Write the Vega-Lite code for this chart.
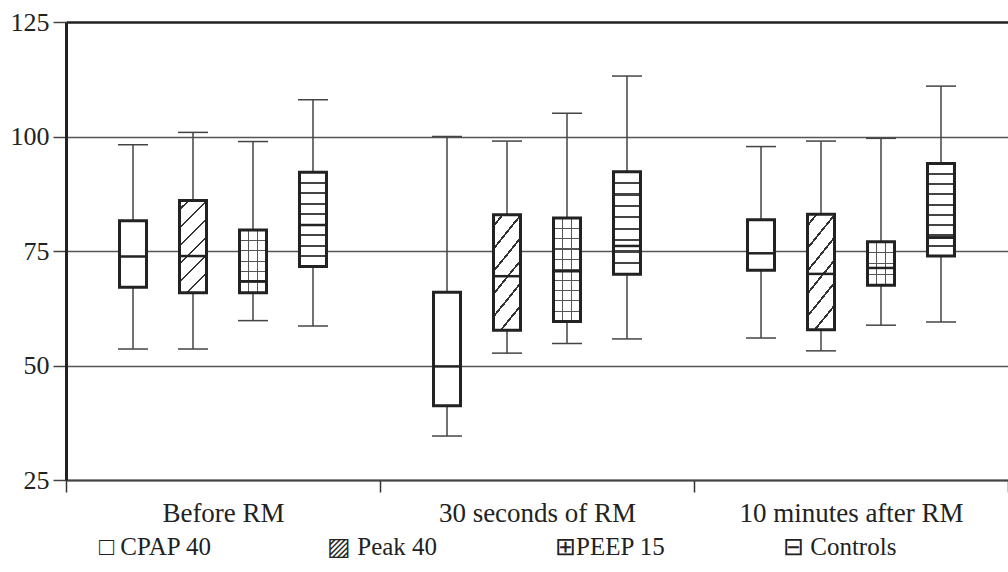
{
  "$schema": "https://vega.github.io/schema/vega-lite/v6.json",
  "width": 942,
  "height": 458,
  "autosize": {"type": "none"},
  "padding": {"left": 66, "top": 22, "right": 0, "bottom": 92},
  "background": "white",
  "config": {"view": {"stroke": null}, "font": "Liberation Serif", "legend": {"labelFont": "Liberation Serif"}},
  "data": {
    "values": [
      {"time": "Before RM", "group": "CPAP 40", "min": 53.6, "q1": 67.1, "median": 73.8, "q3": 81.6, "max": 98.2},
      {"time": "Before RM", "group": "Peak 40", "min": 53.6, "q1": 65.9, "median": 73.9, "q3": 86.0, "max": 100.9},
      {"time": "Before RM", "group": "PEEP 15", "min": 59.8, "q1": 65.9, "median": 68.4, "q3": 79.6, "max": 98.9},
      {"time": "Before RM", "group": "Controls", "min": 58.6, "q1": 71.6, "median": 80.7, "q3": 92.2, "max": 108.0},
      {"time": "30 seconds of RM", "group": "CPAP 40", "min": 34.6, "q1": 41.2, "median": 49.8, "q3": 66.0, "max": 100.0},
      {"time": "30 seconds of RM", "group": "Peak 40", "min": 52.7, "q1": 57.7, "median": 69.5, "q3": 82.9, "max": 99.0},
      {"time": "30 seconds of RM", "group": "PEEP 15", "min": 54.8, "q1": 59.6, "median": 70.6, "q3": 82.2, "max": 105.1},
      {"time": "30 seconds of RM", "group": "Controls", "min": 55.8, "q1": 69.9, "median": 76.1, "q3": 92.3, "max": 113.2},
      {"time": "10 minutes after RM", "group": "CPAP 40", "min": 56.0, "q1": 70.8, "median": 74.5, "q3": 81.8, "max": 97.8},
      {"time": "10 minutes after RM", "group": "Peak 40", "min": 53.2, "q1": 57.8, "median": 70.0, "q3": 83.0, "max": 99.0},
      {"time": "10 minutes after RM", "group": "PEEP 15", "min": 58.8, "q1": 67.5, "median": 71.3, "q3": 77.0, "max": 99.6},
      {"time": "10 minutes after RM", "group": "Controls", "min": 59.5, "q1": 73.9, "median": 77.9, "q3": 94.1, "max": 111.0}
    ]
  },
  "encoding": {
    "x": {
      "field": "time", "type": "nominal",
      "sort": ["Before RM", "30 seconds of RM", "10 minutes after RM"],
      "scale": {"paddingInner": 0, "paddingOuter": 0},
      "axis": {
        "title": null, "labelAngle": 0, "labelFont": "Liberation Serif", "labelFontSize": 27,
        "labelColor": "#222", "labelLimit": 500, "tickBand": "extent", "tickSize": 12, "tickColor": "#333", "tickWidth": 1.5,
        "domainColor": "#444", "domainWidth": 2, "labelPadding": 8
      }
    },
    "xOffset": {
      "field": "group", "type": "nominal",
      "sort": ["CPAP 40", "Peak 40", "PEEP 15", "Controls"],
      "scale": {"paddingInner": 0.55, "paddingOuter": 0.892}
    }
  },
  "layer": [
    {
      "mark": {"type": "rule", "strokeWidth": 1.5},
      "encoding": {
        "y": {
          "field": "min", "type": "quantitative",
          "scale": {"domain": [25, 125], "nice": false, "zero": false},
          "axis": {
            "title": null, "values": [25, 50, 75, 100, 125], "grid": true,
            "gridColor": {"condition": {"test": "datum.value === 125", "value": "#222"}, "value": "#555"},
            "gridWidth": {"condition": {"test": "datum.value === 125", "value": 2.5}, "value": 1.5},
            "domainColor": "#222", "domainWidth": 3, "tickColor": "#444", "tickWidth": 1.5, "tickSize": 13,
            "labelFont": "Liberation Serif", "labelFontSize": 26, "labelColor": "#222", "labelPadding": 4
          }
        },
        "y2": {"field": "max"},
        "color": {
          "field": "group", "type": "nominal",
          "sort": ["CPAP 40", "Peak 40", "PEEP 15", "Controls"],
          "scale": {"range": ["#444", "#444", "#444", "#444"]},
          "legend": {
            "title": null, "orient": "none", "legendX": 8, "legendY": 512,
            "direction": "horizontal", "columns": 4, "gridAlign": "all", "columnPadding": 89,
            "symbolOpacity": 0, "symbolSize": 1, "labelOffset": 0,
            "labelFont": "Liberation Serif", "labelFontSize": 25, "labelColor": "#222", "labelLimit": 300,
            "labelExpr": "datum.label === 'CPAP 40' ? '□ CPAP 40' : datum.label === 'Peak 40' ? '▨ Peak 40' : datum.label === 'PEEP 15' ? '⊞PEEP 15' : '⊟ Controls'"
          }
        }
      }
    },
    {
      "mark": {"type": "tick", "size": 30, "thickness": 1.5, "color": "#444", "opacity": 1},
      "encoding": {"y": {"field": "min", "type": "quantitative"}}
    },
    {
      "mark": {"type": "tick", "size": 30, "thickness": 1.5, "color": "#444", "opacity": 1},
      "encoding": {"y": {"field": "max", "type": "quantitative"}}
    },
    {
      "transform": [{"filter": "datum.group === 'CPAP 40'"}],
      "mark": {"type": "bar", "fill": "#fff"},
      "encoding": {"y": {"field": "q1", "type": "quantitative"}, "y2": {"field": "q3"}}
    },
    {
      "transform": [{"filter": "datum.group === 'Peak 40'"}],
      "mark": {
        "type": "bar",
        "fill": {
          "gradient": "linear", "x1": 0, "y1": 0, "x2": 0.345, "y2": 1.19,
          "stops": [
            {"offset": 0, "color": "#fff"},
            {"offset": 0.066, "color": "#fff"}, {"offset": 0.066, "color": "#333"}, {"offset": 0.086, "color": "#333"}, {"offset": 0.086, "color": "#fff"},
            {"offset": 0.218, "color": "#fff"}, {"offset": 0.218, "color": "#333"}, {"offset": 0.238, "color": "#333"}, {"offset": 0.238, "color": "#fff"},
            {"offset": 0.370, "color": "#fff"}, {"offset": 0.370, "color": "#333"}, {"offset": 0.390, "color": "#333"}, {"offset": 0.390, "color": "#fff"},
            {"offset": 0.522, "color": "#fff"}, {"offset": 0.522, "color": "#333"}, {"offset": 0.542, "color": "#333"}, {"offset": 0.542, "color": "#fff"},
            {"offset": 0.674, "color": "#fff"}, {"offset": 0.674, "color": "#333"}, {"offset": 0.694, "color": "#333"}, {"offset": 0.694, "color": "#fff"},
            {"offset": 0.826, "color": "#fff"}, {"offset": 0.826, "color": "#333"}, {"offset": 0.846, "color": "#333"}, {"offset": 0.846, "color": "#fff"},
            {"offset": 0.978, "color": "#fff"}, {"offset": 0.978, "color": "#333"}, {"offset": 0.998, "color": "#333"}, {"offset": 0.998, "color": "#fff"},
            {"offset": 1, "color": "#fff"}
          ]
        }
      },
      "encoding": {"y": {"field": "q1", "type": "quantitative"}, "y2": {"field": "q3"}}
    },
    {
      "transform": [{"filter": "datum.group === 'PEEP 15' && datum.time === 'Before RM'"}],
      "mark": {
        "type": "bar",
        "fill": {
          "gradient": "linear", "x1": 0, "y1": 0, "x2": 0, "y2": 1,
          "stops": [
            {"offset": 0, "color": "#fff"},
            {"offset": 0.157, "color": "#fff"}, {"offset": 0.157, "color": "#555"}, {"offset": 0.177, "color": "#555"}, {"offset": 0.177, "color": "#fff"},
            {"offset": 0.323, "color": "#fff"}, {"offset": 0.323, "color": "#555"}, {"offset": 0.343, "color": "#555"}, {"offset": 0.343, "color": "#fff"},
            {"offset": 0.490, "color": "#fff"}, {"offset": 0.490, "color": "#555"}, {"offset": 0.510, "color": "#555"}, {"offset": 0.510, "color": "#fff"},
            {"offset": 0.657, "color": "#fff"}, {"offset": 0.657, "color": "#555"}, {"offset": 0.677, "color": "#555"}, {"offset": 0.677, "color": "#fff"},
            {"offset": 0.823, "color": "#fff"}, {"offset": 0.823, "color": "#555"}, {"offset": 0.843, "color": "#555"}, {"offset": 0.843, "color": "#fff"},
            {"offset": 1, "color": "#fff"}
          ]
        }
      },
      "encoding": {"y": {"field": "q1", "type": "quantitative"}, "y2": {"field": "q3"}}
    },
    {
      "transform": [{"filter": "datum.group === 'PEEP 15' && datum.time === '30 seconds of RM'"}],
      "mark": {
        "type": "bar",
        "fill": {
          "gradient": "linear", "x1": 0, "y1": 0, "x2": 0, "y2": 1,
          "stops": [
            {"offset": 0, "color": "#fff"},
            {"offset": 0.094, "color": "#fff"}, {"offset": 0.094, "color": "#555"}, {"offset": 0.106, "color": "#555"}, {"offset": 0.106, "color": "#fff"},
            {"offset": 0.194, "color": "#fff"}, {"offset": 0.194, "color": "#555"}, {"offset": 0.206, "color": "#555"}, {"offset": 0.206, "color": "#fff"},
            {"offset": 0.294, "color": "#fff"}, {"offset": 0.294, "color": "#555"}, {"offset": 0.306, "color": "#555"}, {"offset": 0.306, "color": "#fff"},
            {"offset": 0.394, "color": "#fff"}, {"offset": 0.394, "color": "#555"}, {"offset": 0.406, "color": "#555"}, {"offset": 0.406, "color": "#fff"},
            {"offset": 0.494, "color": "#fff"}, {"offset": 0.494, "color": "#555"}, {"offset": 0.506, "color": "#555"}, {"offset": 0.506, "color": "#fff"},
            {"offset": 0.594, "color": "#fff"}, {"offset": 0.594, "color": "#555"}, {"offset": 0.606, "color": "#555"}, {"offset": 0.606, "color": "#fff"},
            {"offset": 0.694, "color": "#fff"}, {"offset": 0.694, "color": "#555"}, {"offset": 0.706, "color": "#555"}, {"offset": 0.706, "color": "#fff"},
            {"offset": 0.794, "color": "#fff"}, {"offset": 0.794, "color": "#555"}, {"offset": 0.806, "color": "#555"}, {"offset": 0.806, "color": "#fff"},
            {"offset": 0.894, "color": "#fff"}, {"offset": 0.894, "color": "#555"}, {"offset": 0.906, "color": "#555"}, {"offset": 0.906, "color": "#fff"},
            {"offset": 1, "color": "#fff"}
          ]
        }
      },
      "encoding": {"y": {"field": "q1", "type": "quantitative"}, "y2": {"field": "q3"}}
    },
    {
      "transform": [{"filter": "datum.group === 'PEEP 15' && datum.time === '10 minutes after RM'"}],
      "mark": {
        "type": "bar",
        "fill": {
          "gradient": "linear", "x1": 0, "y1": 0, "x2": 0, "y2": 1,
          "stops": [
            {"offset": 0, "color": "#fff"},
            {"offset": 0.236, "color": "#fff"}, {"offset": 0.236, "color": "#555"}, {"offset": 0.264, "color": "#555"}, {"offset": 0.264, "color": "#fff"},
            {"offset": 0.486, "color": "#fff"}, {"offset": 0.486, "color": "#555"}, {"offset": 0.514, "color": "#555"}, {"offset": 0.514, "color": "#fff"},
            {"offset": 0.736, "color": "#fff"}, {"offset": 0.736, "color": "#555"}, {"offset": 0.764, "color": "#555"}, {"offset": 0.764, "color": "#fff"},
            {"offset": 1, "color": "#fff"}
          ]
        }
      },
      "encoding": {"y": {"field": "q1", "type": "quantitative"}, "y2": {"field": "q3"}}
    },
    {
      "transform": [{"filter": "datum.group === 'PEEP 15'"}],
      "mark": {
        "type": "bar",
        "fill": {
          "gradient": "linear", "x1": 0, "y1": 0, "x2": 1, "y2": 0,
          "stops": [
            {"offset": 0, "color": "rgba(0,0,0,0)"},
            {"offset": 0.308, "color": "rgba(0,0,0,0)"}, {"offset": 0.308, "color": "#555"}, {"offset": 0.358, "color": "#555"}, {"offset": 0.358, "color": "rgba(0,0,0,0)"},
            {"offset": 0.642, "color": "rgba(0,0,0,0)"}, {"offset": 0.642, "color": "#555"}, {"offset": 0.692, "color": "#555"}, {"offset": 0.692, "color": "rgba(0,0,0,0)"},
            {"offset": 1, "color": "rgba(0,0,0,0)"}
          ]
        }
      },
      "encoding": {"y": {"field": "q1", "type": "quantitative"}, "y2": {"field": "q3"}}
    },
    {
      "transform": [{"filter": "datum.group === 'Controls'"}],
      "mark": {
        "type": "bar",
        "fill": {
          "gradient": "linear", "x1": 0, "y1": 0, "x2": 0, "y2": 1,
          "stops": [
            {"offset": 0, "color": "#fff"},
            {"offset": 0.100, "color": "#fff"}, {"offset": 0.100, "color": "#444"}, {"offset": 0.122, "color": "#444"}, {"offset": 0.122, "color": "#fff"},
            {"offset": 0.211, "color": "#fff"}, {"offset": 0.211, "color": "#444"}, {"offset": 0.233, "color": "#444"}, {"offset": 0.233, "color": "#fff"},
            {"offset": 0.322, "color": "#fff"}, {"offset": 0.322, "color": "#444"}, {"offset": 0.344, "color": "#444"}, {"offset": 0.344, "color": "#fff"},
            {"offset": 0.433, "color": "#fff"}, {"offset": 0.433, "color": "#444"}, {"offset": 0.455, "color": "#444"}, {"offset": 0.455, "color": "#fff"},
            {"offset": 0.545, "color": "#fff"}, {"offset": 0.545, "color": "#444"}, {"offset": 0.567, "color": "#444"}, {"offset": 0.567, "color": "#fff"},
            {"offset": 0.656, "color": "#fff"}, {"offset": 0.656, "color": "#444"}, {"offset": 0.678, "color": "#444"}, {"offset": 0.678, "color": "#fff"},
            {"offset": 0.767, "color": "#fff"}, {"offset": 0.767, "color": "#444"}, {"offset": 0.789, "color": "#444"}, {"offset": 0.789, "color": "#fff"},
            {"offset": 0.878, "color": "#fff"}, {"offset": 0.878, "color": "#444"}, {"offset": 0.900, "color": "#444"}, {"offset": 0.900, "color": "#fff"},
            {"offset": 1, "color": "#fff"}
          ]
        }
      },
      "encoding": {"y": {"field": "q1", "type": "quantitative"}, "y2": {"field": "q3"}}
    },
    {
      "mark": {"type": "bar", "fill": "#fff", "fillOpacity": 0, "stroke": "#222", "strokeWidth": 3},
      "encoding": {"y": {"field": "q1", "type": "quantitative"}, "y2": {"field": "q3"}}
    },
    {
      "mark": {"type": "tick", "size": 27, "thickness": 2.5, "color": "#222", "opacity": 1},
      "encoding": {"y": {"field": "median", "type": "quantitative"}}
    }
  ]
}
